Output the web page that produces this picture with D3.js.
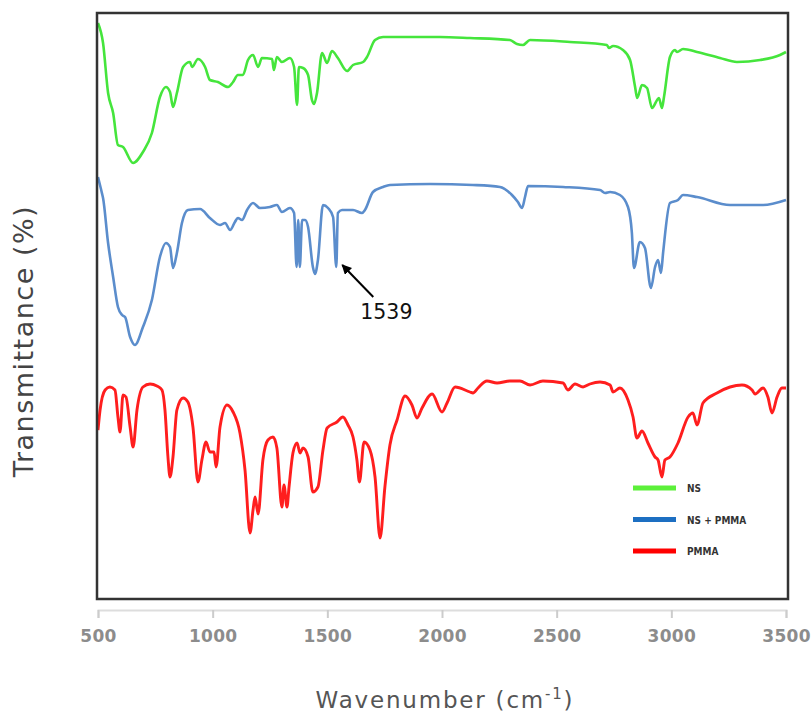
<!DOCTYPE html>
<html>
<head>
<meta charset="utf-8">
<script src="https://cdn.jsdelivr.net/npm/d3@7"></script>
<style>
  body { margin: 0; background: #fff; }
  svg { display: block; }
</style>
</head>
<body>
<svg id="chart" width="812" height="713"></svg>
<script>
// FTIR spectra, wavenumber (cm-1) vs transmittance (arbitrary offset units)
var nsWave = [500, 522, 544, 566, 587, 609, 653, 696, 735, 770, 796, 814, 827, 844, 871, 901, 910, 936, 967, 988, 1023, 1067, 1089, 1110, 1132, 1154, 1176, 1198, 1215, 1259, 1267, 1280, 1302, 1337, 1355, 1368, 1376, 1394, 1416, 1433, 1442, 1455, 1477, 1499, 1520, 1546, 1586, 1612, 1656, 1673, 1708, 1743, 1830, 1991, 2122, 2296, 2327, 2353, 2384, 2558, 2719, 2728, 2746, 2789, 2820, 2842, 2851, 2872, 2894, 2916, 2938, 2946, 2959, 2968, 2994, 3016, 3025, 3051, 3112, 3212, 3286, 3387, 3474, 3500];
var nsT = [115, 111, 101, 97, 90.6, 90.2, 87, 89.2, 93, 100.2, 102.2, 101.2, 98.2, 101, 106.2, 107.2, 106.2, 107.8, 106.2, 103.6, 103.2, 102.2, 103.2, 104.6, 104.6, 107.6, 108.6, 106.2, 108, 107.8, 105.6, 108.2, 107.2, 108, 106.2, 98.6, 106.2, 106, 104.6, 99.6, 98.8, 101, 109, 107, 109.4, 108, 105.4, 106.6, 107.2, 108.2, 111.6, 112.2, 112.2, 112.2, 112, 111.6, 110.8, 110.6, 111.6, 111.2, 110.6, 110, 110.4, 109.6, 107.6, 102.2, 100, 102.6, 102, 98, 99.6, 100, 98, 100.2, 108.2, 109.6, 109.2, 109.8, 109.2, 108, 107.2, 107.6, 108.6, 109.2];

var mixWave = [500, 517, 522, 544, 566, 587, 605, 618, 640, 661, 696, 735, 770, 796, 814, 827, 844, 866, 892, 945, 988, 1032, 1054, 1076, 1097, 1110, 1128, 1150, 1176, 1206, 1250, 1280, 1302, 1337, 1355, 1366, 1373, 1380, 1390, 1403, 1416, 1437, 1446, 1459, 1481, 1503, 1525, 1539, 1546, 1564, 1612, 1651, 1664, 1699, 1743, 1773, 1948, 2135, 2253, 2305, 2331, 2349, 2362, 2375, 2528, 2689, 2711, 2733, 2776, 2811, 2828, 2837, 2863, 2885, 2911, 2929, 2942, 2955, 2964, 2994, 3029, 3051, 3112, 3256, 3400, 3500];
var mixT = [84.2, 81, 80, 71, 64.2, 58.2, 56.6, 56.2, 52.2, 50.6, 54.2, 59.6, 68.2, 71, 70.2, 66, 69, 75, 77.6, 77.8, 76, 74.6, 75, 73.6, 75.2, 76, 75.6, 77.6, 79, 78, 78.2, 78.6, 77.2, 78, 77, 66.2, 75.6, 66.2, 75.6, 75.6, 74.2, 66.2, 64.8, 67.6, 78.6, 78, 76.2, 66.2, 77, 77.6, 77.6, 77, 77.6, 81.2, 82.2, 82.6, 82.8, 82.6, 82.2, 80.6, 79.2, 78, 80.2, 82.4, 82.2, 81.6, 81, 81.2, 80.6, 78.2, 73, 66, 71.2, 70, 62, 66.2, 67.6, 65, 69, 79, 79.6, 80.6, 80.2, 78.6, 78.6, 79.6];

var pmmaWave = [500, 509, 531, 552, 574, 587, 596, 609, 622, 640, 653, 670, 696, 727, 757, 779, 792, 805, 814, 827, 844, 871, 892, 914, 936, 953, 971, 988, 1006, 1015, 1032, 1063, 1089, 1119, 1141, 1163, 1176, 1185, 1198, 1219, 1241, 1263, 1280, 1302, 1311, 1324, 1333, 1350, 1368, 1381, 1394, 1416, 1437, 1459, 1481, 1499, 1542, 1568, 1590, 1612, 1629, 1640, 1660, 1686, 1708, 1730, 1751, 1773, 1804, 1839, 1869, 1891, 1913, 1957, 2000, 2022, 2057, 2122, 2135, 2157, 2196, 2240, 2296, 2340, 2384, 2440, 2528, 2549, 2580, 2615, 2645, 2689, 2733, 2746, 2776, 2811, 2833, 2850, 2872, 2898, 2929, 2942, 2959, 2972, 2994, 3029, 3073, 3094, 3112, 3138, 3199, 3256, 3308, 3352, 3365, 3400, 3421, 3439, 3461, 3482, 3500];
var pmmaT = [33.6, 37.6, 41.6, 42.2, 41.6, 36.2, 33.2, 40.6, 40.2, 34.2, 30.2, 37.6, 42.2, 42.8, 42.4, 41.6, 37.6, 28.2, 24.2, 28.2, 37.6, 40, 39.2, 34.2, 23.2, 27.6, 31.2, 29.2, 29.2, 26.2, 34.2, 38.6, 37.2, 33, 25.6, 13, 17.6, 20.2, 16.8, 27.6, 31.6, 32.2, 30, 18.2, 22.6, 18.2, 22.2, 29, 31, 29, 30, 28.2, 21.2, 22.2, 29.6, 34, 35.2, 36.2, 34.6, 32.2, 27.6, 23.2, 31.2, 29.6, 24.2, 12, 22.2, 30.6, 35.6, 40.4, 38.6, 36, 38, 40.8, 37.2, 39, 42.2, 41.2, 41, 42, 43.4, 43, 43.4, 43.4, 42.6, 43.4, 43, 41.6, 42.8, 42.2, 42.8, 43.2, 42.6, 41.2, 42, 39.6, 36.2, 32, 33.4, 31, 28.2, 27.6, 24.2, 27.6, 28.2, 31, 36.2, 37, 34.6, 39, 41, 42.2, 42.6, 41.6, 40.8, 42, 40.2, 37, 40.2, 42, 42];

var seriesNames = ["NS", "NS + PMMA", "PMMA"];
var lineColors = ["#45e53c", "#5b8dcc", "#ff1e1e"];
var legendColors = ["#5cf03a", "#1d6fc2", "#ff0000"];
var xTicks = [500, 1000, 1500, 2000, 2500, 3000, 3500];
var peakLabel = 1539;

var svg = d3.select("#chart");

var frameL = 97, frameR = 788, frameT = 13, frameB = 599;

var x = d3.scaleLinear().domain([500, 3500]).range([98, 786]);
var y = d3.scaleLinear().domain([0, 117]).range([598, 13]);

function zip(w, t) {
    return w.map(function (d, i) { return { w: d, t: t[i] }; });
}
var series = [zip(nsWave, nsT), zip(mixWave, mixT), zip(pmmaWave, pmmaT)];

var line = d3.line()
    .x(function (d) { return x(d.w); })
    .y(function (d) { return y(d.t); })
    .curve(d3.curveMonotoneX);

var defs = svg.append("defs");
defs.append("clipPath").attr("id", "plotclip")
    .append("rect")
    .attr("x", frameL).attr("y", frameT)
    .attr("width", frameR - frameL).attr("height", frameB - frameT);

svg.append("g")
    .attr("clip-path", "url(#plotclip)")
    .selectAll("path")
    .data(series)
    .enter().append("path")
    .attr("d", line)
    .attr("fill", "none")
    .attr("stroke", function (d, i) { return lineColors[i]; })
    .attr("stroke-width", function (d, i) { return i === 2 ? 2.9 : 2.6; })
    .attr("stroke-linejoin", "round");

// plot frame
svg.append("rect")
    .attr("x", frameL).attr("y", frameT)
    .attr("width", frameR - frameL).attr("height", frameB - frameT)
    .attr("fill", "none")
    .attr("stroke", "#333")
    .attr("stroke-width", 2.5);

// x axis, drawn below the frame
var xAxis = svg.append("g")
    .attr("transform", "translate(0,610)")
    .call(d3.axisBottom(x).tickValues(xTicks).tickSize(8).tickPadding(12).tickFormat(d3.format("d")));
xAxis.select(".domain").attr("stroke", "#ddd").attr("stroke-width", 2);
xAxis.selectAll(".tick line").attr("stroke", "#ccc").attr("stroke-width", 2);
xAxis.selectAll(".tick text")
    .attr("fill", "#8c8c8c")
    .attr("font-family", "DejaVu Sans, Verdana, sans-serif")
    .attr("font-weight", "bold")
    .attr("font-size", 17)
    .attr("letter-spacing", 0.3);

var xTitle = svg.append("text")
    .attr("x", 445).attr("y", 708)
    .attr("text-anchor", "middle")
    .attr("fill", "#555")
    .attr("font-family", "DejaVu Sans, Verdana, sans-serif")
    .attr("font-size", 23)
    .attr("letter-spacing", 1.8);
xTitle.append("tspan").text("Wavenumber (cm");
xTitle.append("tspan").attr("baseline-shift", "super").attr("font-size", 15).text("-1");
xTitle.append("tspan").text(")");

svg.append("text")
    .attr("transform", "translate(33,341) rotate(-90)")
    .attr("text-anchor", "middle")
    .attr("fill", "#444")
    .attr("font-family", "DejaVu Sans, Verdana, sans-serif")
    .attr("font-size", 27)
    .attr("letter-spacing", 1.5)
    .text("Transmittance (%)");

// annotation at the 1539 peak of the blend
var tipX = x(peakLabel) + 6, tipY = y(66.6);
defs.append("marker")
    .attr("id", "arrowhead")
    .attr("viewBox", "0 0 10 10")
    .attr("refX", 9).attr("refY", 5)
    .attr("markerWidth", 5).attr("markerHeight", 5)
    .attr("orient", "auto")
    .append("path").attr("d", "M0,0 L10,5 L0,10 z").attr("fill", "#000");
svg.append("line")
    .attr("x1", tipX + 31).attr("y1", tipY + 32)
    .attr("x2", tipX).attr("y2", tipY)
    .attr("stroke", "#000").attr("stroke-width", 2)
    .attr("marker-end", "url(#arrowhead)");
svg.append("text")
    .attr("x", tipX + 18).attr("y", tipY + 54)
    .attr("fill", "#111")
    .attr("font-family", "DejaVu Sans, Verdana, sans-serif")
    .attr("font-size", 20.5)
    .text(peakLabel);

// legend
var legend = svg.append("g").attr("transform", "translate(633,488)");
var item = legend.selectAll("g")
    .data(seriesNames)
    .enter().append("g")
    .attr("transform", function (d, i) { return "translate(0," + (i * 31.5) + ")"; });
item.append("line")
    .attr("x1", 0).attr("x2", 43)
    .attr("stroke", function (d, i) { return legendColors[i]; })
    .attr("stroke-width", 5);
item.append("text")
    .attr("x", 54).attr("y", 4)
    .attr("fill", "#333")
    .attr("font-family", "DejaVu Sans Condensed, DejaVu Sans, sans-serif")
    .attr("font-weight", "bold")
    .attr("font-size", 10)
    .text(function (d) { return d; });
</script>
</body>
</html>
